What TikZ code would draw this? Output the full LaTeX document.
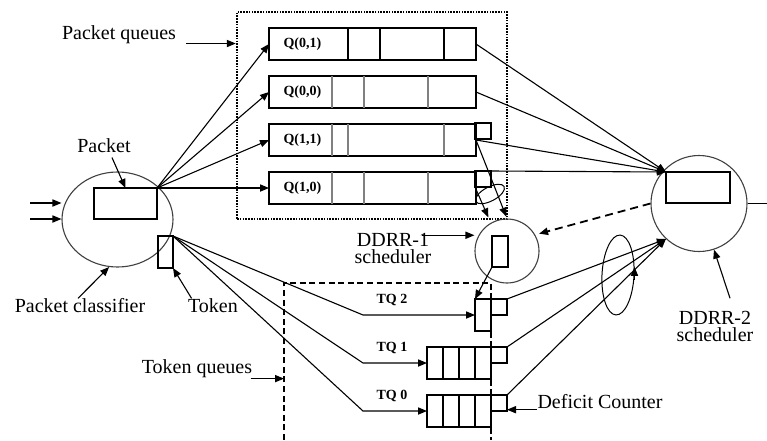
\documentclass[tikz,border=0pt]{standalone}
\usepackage{fontspec}
\setmainfont{Liberation Serif}
\usetikzlibrary{shapes.geometric,arrows.meta,calc}

\begin{document}
\begin{tikzpicture}[x=0.5pt,y=-0.5pt,line width=0.55pt,
	>={Triangle[length=4.5pt,width=3.6pt]},
	lbl/.style={inner sep=0pt,font=\fontsize{10}{8.5}\selectfont,align=center},
	qlbl/.style={inner sep=0pt,font=\bfseries\fontsize{7}{8}\selectfont},
	box/.style={draw,line width=0.9pt,inner sep=0pt,outer sep=0pt},
	qbox/.style={box,minimum width=103.5pt,minimum height=16pt},
	cnt/.style={box,minimum width=8pt,minimum height=8pt},
	sched/.style={draw=black!75,circle,inner sep=0pt},
	grp/.style={draw,ellipse,inner sep=0pt,line width=0.5pt},
	dotframe/.style={draw,line width=1.2pt,dash pattern=on 0.8pt off 0.6pt},
	dashframe/.style={line width=1.2pt,dash pattern=on 3pt off 1.8pt}]
	\useasboundingbox (0,0) rectangle (767,440);

	\node[draw=black!75,ellipse,minimum width=55.5pt,minimum height=47.5pt,inner sep=0pt] (classifier) at (117.5,219.5) {};
	\node[box,minimum width=31.5pt,minimum height=15.5pt] (pkt) at (125.5,203.5) {};
	\node[box,minimum width=7.5pt,minimum height=16pt] (token) at (165.5,252) {};
	\coordinate (in1) at (30,203);
	\coordinate (in2) at (30,219);
	\draw[->] (in1) -- (in1 -| classifier.west);
	\draw[->] (in2) -- (in2 -| classifier.west);

	\node[dotframe,minimum width=135pt,minimum height=103.5pt,inner sep=0pt] (pqframe) at (372,115.5) {};
	\node[qbox] (q01) at (372.5,44) {};
	\node[qbox] (q00) at (372.5,92) {};
	\node[qbox] (q11) at (372.5,140) {};
	\node[qbox] (q10) at (372.5,188) {};
	\foreach \x in {348,380,444} \draw[line width=0.9pt] (\x,28) -- (\x,60);
	\foreach \x in {332,364,428} \draw[gray] (\x,76) -- (\x,108);
	\foreach \x in {332,348,444} \draw[gray] (\x,124) -- (\x,156);
	\foreach \x in {332,364,428} \draw[gray] (\x,172) -- (\x,204);
	\node[qlbl,anchor=west] (q01t) at ([xshift=7pt]q01.west) {Q(0,1)};
	\node[qlbl,anchor=west] (q00t) at ([xshift=7pt]q00.west) {Q(0,0)};
	\node[qlbl,anchor=west] (q11t) at ([xshift=7pt]q11.west) {Q(1,1)};
	\node[qlbl,anchor=west] (q10t) at ([xshift=7pt]q10.west) {Q(1,0)};
	\node[cnt] (sq11) at (483,131) {};
	\node[cnt] (sq10) at (483,179) {};

	\node[sched,minimum size=32pt] (d1) at (507,251) {};
	\node[box,minimum width=8pt,minimum height=15.5pt] (d1r) at (500,251.5) {};
	\node[sched,minimum size=48pt] (d2) at (699,203.5) {};
	\node[box,minimum width=32pt,minimum height=15.5pt] (d2r) at (698,187.5) {};
	\coordinate (out) at (767,203.5);
	\draw (d2.east) -- (out);

	\coordinate (tqtl) at (284,283);
	\draw[dashframe] (tqtl |- out) ++(0,236.5) -- (tqtl) -- (491,283) -- (491,440);
	\node[box,minimum width=8pt,minimum height=16pt] (tq2) at (483,315) {};
	\node[box,minimum width=32pt,minimum height=16pt] (tq1) at (459,363) {};
	\node[box,minimum width=32pt,minimum height=16pt] (tq0) at (459,411) {};
	\foreach \x in {443,459,475} {
		\draw (\x,347) -- (\x,379);
		\draw (\x,395) -- (\x,427);
	}
	\node[cnt] (tq2c) at (499,307) {};
	\node[cnt] (tq1c) at (499,355) {};
	\node[cnt] (tq0c) at (499,403) {};
	\node[qlbl] (tq2t) at (392,300) {TQ 2};
	\node[qlbl] (tq1t) at (392,348) {TQ 1};
	\node[qlbl] (tq0t) at (392,396) {TQ 0};

	\foreach \q in {q01,q00,q11,q10} \draw[->] (pkt.north east) -- (\q.west);
	\foreach \q in {q01,q00,q11} \draw[->] (\q.east) -- (d2r.north west);
	\draw[->] (sq10.north east) -- (d2r.north west);
	\draw[->,shorten >=1pt] (q11.east) -- (d1.north);
	\draw[->,shorten >=3pt] (sq10.south west) -- (d1.120);
	\node[grp,rotate=28,minimum width=16pt,minimum height=7pt] (grp1) at (490,194) {};
	\draw[->,line width=0.9pt,dash pattern=on 4pt off 2.5pt,shorten >=2pt] (d2.west) -- (d1.30);
	\draw[->] (d1r.south west) -- (tq2.north west);

	\coordinate (fan) at (363,0);
	\foreach \q in {tq2,tq1,tq0} \draw[->] (token.north east) -- (fan |- \q.west) -- (\q.west);
	\foreach \q in {tq2c,tq1c,tq0c} \draw[->] (\q.north east) -- (d2.227);
	\node[grp,rotate=-3,minimum width=16pt,minimum height=40pt] (grp2) at (618,275) {};
	\draw[->] ([yshift=-2pt]grp2.east) -- ([yshift=4.5pt]grp2.east);

	\node[lbl] (pqlbl) at (119,35) {Packet queues};
	\draw[->] ([xshift=5pt,yshift=-4.25pt]pqlbl.east) -- ([yshift=-4.25pt]pqlbl.east -| pqframe.west);
	\node[lbl] (pktlbl) at (104,146) {Packet};
	\draw[->] ([xshift=4pt,yshift=-2pt]pktlbl.south) -- (pkt.north);
	\node[lbl] (cllbl) at (80,306) {Packet classifier};
	\draw[->] ([xshift=-1pt]cllbl.north) -- (classifier.260);
	\node[lbl] (toklbl) at (213,306) {Token};
	\draw[->] ([xshift=2pt]toklbl.north west) -- (token.south east);
	\node[lbl] (tqlbl) at (197,369) {Token queues};
	\draw[->] ([xshift=-1pt]tqlbl.south east) -- (tqlbl.south east -| tqtl);
	\node[lbl] (d1lbl) at (393,248) {DDRR-1\\scheduler};
	\draw[->] ([xshift=-5pt,yshift=-1.5pt]d1lbl.north east) -- ([yshift=-1.5pt]d1lbl.north east -| d1.west);
	\node[lbl] (d2lbl) at (715,326) {DDRR-2\\scheduler};
	\draw[->] ([xshift=7.5pt,yshift=6pt]d2lbl.north) -- (d2.-72);
	\node[lbl,anchor=west] (dclbl) at (537,402) {Deficit Counter};
	\draw[->] (dclbl.south west) -- (dclbl.south west -| tq0c.east);
\end{tikzpicture}
\end{document}
